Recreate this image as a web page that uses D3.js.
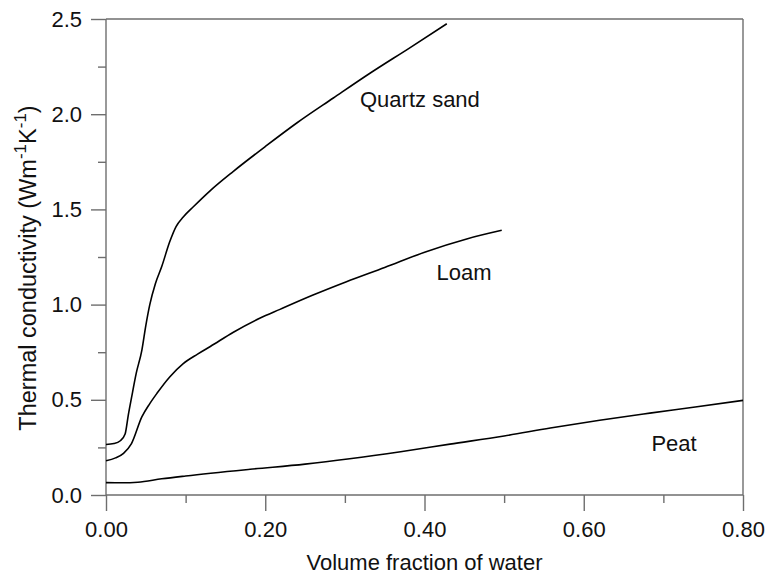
<!DOCTYPE html>
<html>
<head>
<meta charset="utf-8">
<script src="https://cdn.jsdelivr.net/npm/d3@7"></script>
<style>
  html, body { margin: 0; padding: 0; background: #fff; }
  text { font-family: "Liberation Sans", Arial, sans-serif; fill: #111; }
</style>
</head>
<body>
<svg id="chart" width="768" height="579"></svg>
<script>
// ---- data ----
const quartzSandX = [0, 0.01, 0.018, 0.024, 0.028, 0.032, 0.038, 0.045, 0.05, 0.055, 0.062, 0.07, 0.08, 0.088, 0.097, 0.11, 0.13, 0.16, 0.20, 0.24, 0.2855, 0.3315, 0.382, 0.428];
const quartzSandY = [0.265, 0.27, 0.285, 0.32, 0.42, 0.51, 0.64, 0.76, 0.89, 1.00, 1.11, 1.20, 1.33, 1.41, 1.46, 1.515, 1.595, 1.70, 1.83, 1.955, 2.085, 2.215, 2.35, 2.475];

const loamX = [0, 0.012, 0.022, 0.032, 0.045, 0.055, 0.064, 0.08, 0.097, 0.115, 0.131, 0.16, 0.193, 0.2185, 0.26, 0.302, 0.35, 0.402, 0.453, 0.497];
const loamY = [0.18, 0.195, 0.219, 0.27, 0.41, 0.48, 0.534, 0.62, 0.69, 0.74, 0.78, 0.855, 0.928, 0.975, 1.05, 1.12, 1.195, 1.278, 1.345, 1.39];

const peatX = [0, 0.02, 0.04, 0.07, 0.1, 0.181, 0.25, 0.306, 0.37, 0.432, 0.5, 0.558, 0.62, 0.683, 0.74, 0.8];
const peatY = [0.065, 0.064, 0.067, 0.085, 0.10, 0.135, 0.162, 0.19, 0.227, 0.267, 0.31, 0.352, 0.393, 0.43, 0.462, 0.497];

const seriesNames = ["Quartz sand", "Loam", "Peat"];
const xMajorTicks = [0, 0.2, 0.4, 0.6, 0.8];
const xMinorTicks = [0.1, 0.3, 0.5, 0.7];
const yMajorTicks = [0, 0.5, 1.0, 1.5, 2.0, 2.5];
const yMinorTicks = [0.25, 0.75, 1.25, 1.75, 2.25];
const xTitle = "Volume fraction of water";

// ---- layout ----
const svg = d3.select("#chart");
const mLeft = 106, mRight = 743, mTop = 19, mBottom = 495;
const x = d3.scaleLinear().domain([0, 0.8]).range([mLeft, mRight]);
const y = d3.scaleLinear().domain([0, 2.5]).range([mBottom, mTop]);
const axisColor = "#6e6e6e";

// frame lines (top and right)
svg.append("line").attr("x1", mLeft).attr("x2", mRight).attr("y1", mTop).attr("y2", mTop)
  .attr("stroke", axisColor).attr("stroke-width", 1.4);
svg.append("line").attr("x1", mRight).attr("x2", mRight).attr("y1", mTop).attr("y2", mBottom)
  .attr("stroke", axisColor).attr("stroke-width", 1.4);

// x axis
const xAxis = d3.axisBottom(x).tickValues(xMajorTicks).tickFormat(d3.format(".2f"))
  .tickSize(16).tickPadding(10);
const gx = svg.append("g").attr("transform", `translate(0,${mBottom})`).call(xAxis);
gx.selectAll("text").style("font-size", "22px").attr("fill", "#111");
const gxm = svg.append("g").attr("transform", `translate(0,${mBottom})`)
  .call(d3.axisBottom(x).tickValues(xMinorTicks).tickFormat("").tickSize(8));
gxm.select(".domain").remove();

// y axis
const yAxis = d3.axisLeft(y).tickValues(yMajorTicks).tickFormat(d3.format(".1f"))
  .tickSize(15).tickPadding(9);
const gy = svg.append("g").attr("transform", `translate(${mLeft},0)`).call(yAxis);
gy.selectAll("text").style("font-size", "22px").attr("fill", "#111");
const gym = svg.append("g").attr("transform", `translate(${mLeft},0)`)
  .call(d3.axisLeft(y).tickValues(yMinorTicks).tickFormat("").tickSize(8));
gym.select(".domain").remove();

[gx, gxm, gy, gym].forEach(g => {
  g.selectAll("path.domain").attr("stroke", axisColor).attr("stroke-width", 1.4);
  g.selectAll(".tick line").attr("stroke", axisColor).attr("stroke-width", 1.4);
});
gx.select(".domain").attr("d", `M${mLeft},0H${mRight}`);
gy.select(".domain").attr("d", `M0,${mBottom}V${mTop}`);

// axis titles
svg.append("text").attr("x", (mLeft + mRight) / 2).attr("y", 570)
  .attr("text-anchor", "middle").style("font-size", "22px").text(xTitle);

const yt = svg.append("text")
  .attr("transform", `translate(36,268) rotate(-90)`)
  .attr("text-anchor", "middle").style("font-size", "23.5px");
yt.append("tspan").text("Thermal conductivity (Wm");
yt.append("tspan").attr("dy", -10).style("font-size", "17px").text("-1");
yt.append("tspan").attr("dy", 10).text("K");
yt.append("tspan").attr("dy", -10).style("font-size", "17px").text("-1");
yt.append("tspan").attr("dy", 10).text(")");

// curves
const line = d3.line().x(d => x(d[0])).y(d => y(d[1])).curve(d3.curveMonotoneX);
const series = [
  d3.zip(quartzSandX, quartzSandY),
  d3.zip(loamX, loamY),
  d3.zip(peatX, peatY)
];
svg.selectAll("path.curve").data(series).enter().append("path")
  .attr("class", "curve").attr("d", line)
  .attr("fill", "none").attr("stroke", "#000").attr("stroke-width", 1.6);

// curve labels (placed at data coordinates)
const labelPos = [[0.319, 2.04], [0.415, 1.13], [0.685, 0.23]];
svg.selectAll("text.lbl").data(seriesNames).enter().append("text")
  .attr("class", "lbl")
  .attr("x", (d, i) => x(labelPos[i][0]))
  .attr("y", (d, i) => y(labelPos[i][1]))
  .attr("text-anchor", "start").style("font-size", "22px").text(d => d);
</script>
</body>
</html>
